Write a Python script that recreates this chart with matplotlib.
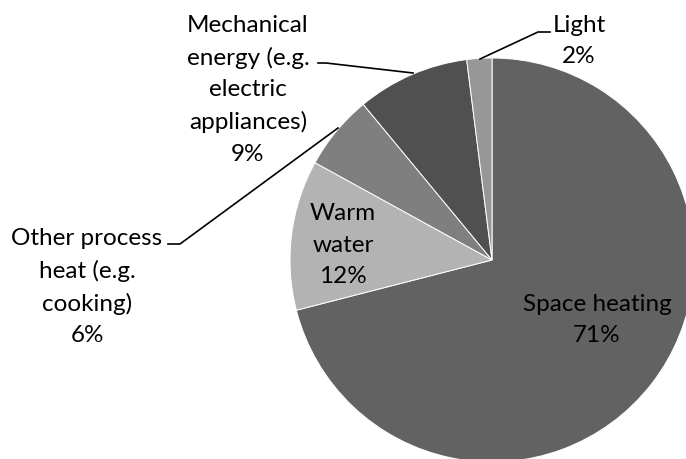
import matplotlib.pyplot as plt

labels = ["Space heating", "Warm\nwater", "Other process\nheat (e.g.\ncooking)",
          "Mechanical\nenergy (e.g.\nelectric\nappliances)", "Light"]
shares = [71, 12, 6, 9, 2]
colors = ["#626262", "#b3b3b3", "#7f7f7f", "#505050", "#979797"]

W, H = 686, 459
fig = plt.figure(figsize=(W / 100, H / 100), dpi=100)

# pie axes: centre (492, 260) px, radius 202 px
cx, cy, r = 492, 260, 202
ax = fig.add_axes([(cx - r) / W, (H - cy - r) / H, 2 * r / W, 2 * r / H])
ax.pie(shares, colors=colors, startangle=90, counterclock=False, radius=1,
       wedgeprops=dict(edgecolor="white", linewidth=0.7))
ax.set_xlim(-1, 1)
ax.set_ylim(-1, 1)
ax.set_aspect("auto")
ax.axis("off")

# overlay in pixel coords for labels and leader lines
ov = fig.add_axes([0, 0, 1, 1])
ov.set_xlim(0, W)
ov.set_ylim(H, 0)
ov.axis("off")
ov.patch.set_alpha(0)

font = dict(family="Lato", fontsize=17.5, ha="center", va="center",
            linespacing=1.6, color="black")
label_pos = [(597, 320), (343, 245), (87, 287), (248, 90), (579, 41)]
for lab, pct, (x, y) in zip(labels, shares, label_pos):
    ov.text(x, y, f"{lab}\n{pct}%", **font)

leaders = [
    [(318, 63), (326, 63), (413, 73)],
    [(168, 244), (180, 244), (338, 128)],
    [(550, 32), (538, 32), (480, 59)],
]
for pts in leaders:
    xs, ys = zip(*pts)
    ov.plot(xs, ys, color="black", lw=1.2)

fig.savefig("out.png", dpi=100)
